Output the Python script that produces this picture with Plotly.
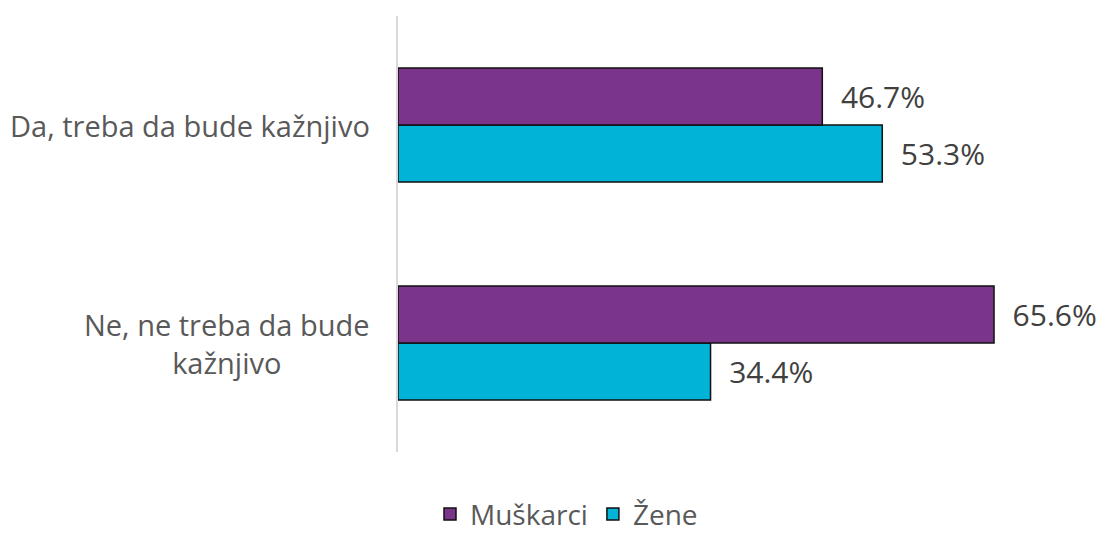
import plotly.graph_objects as go

categories = ["Ne, ne treba da bude<br>kažnjivo", "Da, treba da bude kažnjivo"]
muskarci = [65.6, 46.7]
zene = [34.4, 53.3]

PURPLE = "#7A3489"
CYAN = "#00B3D7"
FONT = "Open Sans, Arial, sans-serif"

fig = go.Figure()

# Žene is added first so that Muškarci sits above it inside each group
fig.add_trace(go.Bar(
    name="Žene", y=categories, x=zene, orientation="h",
    marker=dict(color=CYAN, line=dict(color="#111111", width=1.5)),
    text=[f"\u00a0\u00a0{v:.1f}%" for v in zene], textposition="outside",
    textfont=dict(size=30, color="#404040", family=FONT), cliponaxis=False,
))
fig.add_trace(go.Bar(
    name="Muškarci", y=categories, x=muskarci, orientation="h",
    marker=dict(color=PURPLE, line=dict(color="#111111", width=1.5)),
    text=[f"\u00a0\u00a0{v:.1f}%" for v in muskarci], textposition="outside",
    textfont=dict(size=30, color="#404040", family=FONT), cliponaxis=False,
))

# Category labels, centred line by line
for cat in categories:
    fig.add_annotation(
        x=0, xref="paper", y=cat, yref="y", text=cat, showarrow=False,
        xanchor="right", align="center", xshift=-26,
        font=dict(size=29, color="#595959", family=FONT),
    )

fig.update_layout(
    width=1100, height=533,
    margin=dict(l=398, r=66, t=16, b=81),
    paper_bgcolor="white", plot_bgcolor="white",
    barmode="group", bargap=0.477, bargroupgap=0,
    font=dict(family=FONT, color="#595959"),
    showlegend=True,
    legend=dict(
        orientation="h", traceorder="reversed",
        x=0.515, xref="container", xanchor="center",
        y=0.035, yref="container", yanchor="middle",
        font=dict(size=28, color="#595959", family=FONT),
        itemwidth=30,
    ),
    xaxis=dict(range=[0, 70], visible=False, fixedrange=True),
    yaxis=dict(
        type="category", range=[-0.5, 1.5], showticklabels=False,
        showline=True, linecolor="#D9D9D9", linewidth=2,
        showgrid=False, ticks="", zeroline=False,
    ),
)

fig.write_html("out.html")
